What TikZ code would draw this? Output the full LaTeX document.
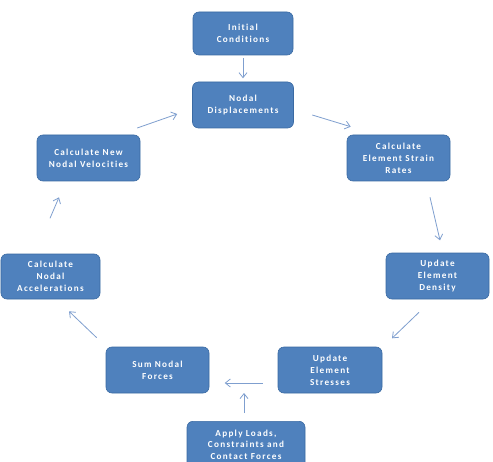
\documentclass[tikz,border=0pt]{standalone}
\usepackage{fontspec}
\setmainfont{Carlito}
\newfontfamily\boxfont[LetterSpace=14,Ligatures={NoCommon}]{Carlito}
\usetikzlibrary{arrows.meta,calc}
\definecolor{boxblue}{HTML}{4F81BD}
\definecolor{boxedge}{HTML}{3A6AA3}
\definecolor{arrblue}{HTML}{7F9FCF}
\tikzset{
  stepbox/.style={draw=boxedge, line width=0.6bp, fill=boxblue, rounded corners=6bp,
    text=white, font=\boxfont\bfseries\fontsize{9.2}{12}\selectfont, align=center,
    inner sep=0pt},
  flow/.style={draw=arrblue, line width=0.8bp, -{Straight Barb[length=5bp,width=8bp]}}
}
\begin{document}
\begin{tikzpicture}[x=1bp,y=-1bp]
\useasboundingbox (0,0) rectangle (493,462);
\fill[white] (0,0) rectangle (493,462);
\newcommand{\bx}[6]{\node[stepbox, minimum width=#4bp, minimum height=#5bp] (#1) at (#2,#3) {#6};}
\bx{init}{243}{33.5}{100}{43}{Initial\\Conditions}
\bx{disp}{243}{105}{101}{46}{Nodal\\Displacements}
\bx{vel}{88.5}{158}{103}{46}{Calculate New\\Nodal Velocities}
\bx{strain}{398.5}{158}{103}{46}{Calculate\\Element Strain\\Rates}
\bx{acc}{50.5}{276.5}{99}{45}{Calculate\\Nodal\\Accelerations}
\bx{dens}{437.5}{276}{103}{46}{Update\\Element\\Density}
\bx{sum}{157.5}{370}{103}{46}{Sum Nodal\\Forces}
\bx{stress}{330}{370}{104}{46}{Update\\Element\\Stresses}
\node[stepbox, minimum width=118bp, minimum height=47bp, anchor=north,
  font=\boxfont\bfseries\fontsize{9.2}{11.3}\selectfont] (apply) at (246,421) {Apply Loads,\\Constraints and\\Contact Forces};
\draw[flow] ($(init.south)+(0,3)$) -- ($(init.south)+(0,23)$);
\draw[flow] ($(disp.west)+(-55,23)$) -- ($(disp.west)+(-15,9)$);
\draw[flow] ($(disp.east)+(18.5,10)$) -- ($(strain.north west)+(4,-8)$);
\draw[flow] ($(strain.south)+(31.5,16)$) -- ($(strain.south)+(41.5,59)$);
\draw[flow] ($(dens.south)+(-18.5,13)$) -- ($(dens.south)+(-45.5,39)$);
\draw[flow] ($(stress.west)+(-15,13)$) -- ($(stress.west)+(-53,13)$);
\draw[flow] ($(apply.north)+(-2,-8)$) -- ($(apply.north)+(-2,-28)$);
\draw[flow] ($(sum.north west)+(-9,-9)$) -- ($(acc.south)+(18.5,12)$);
\draw[flow] ($(vel.south)+(-38.5,37)$) -- ($(vel.south)+(-29.5,16)$);
\end{tikzpicture}
\end{document}
